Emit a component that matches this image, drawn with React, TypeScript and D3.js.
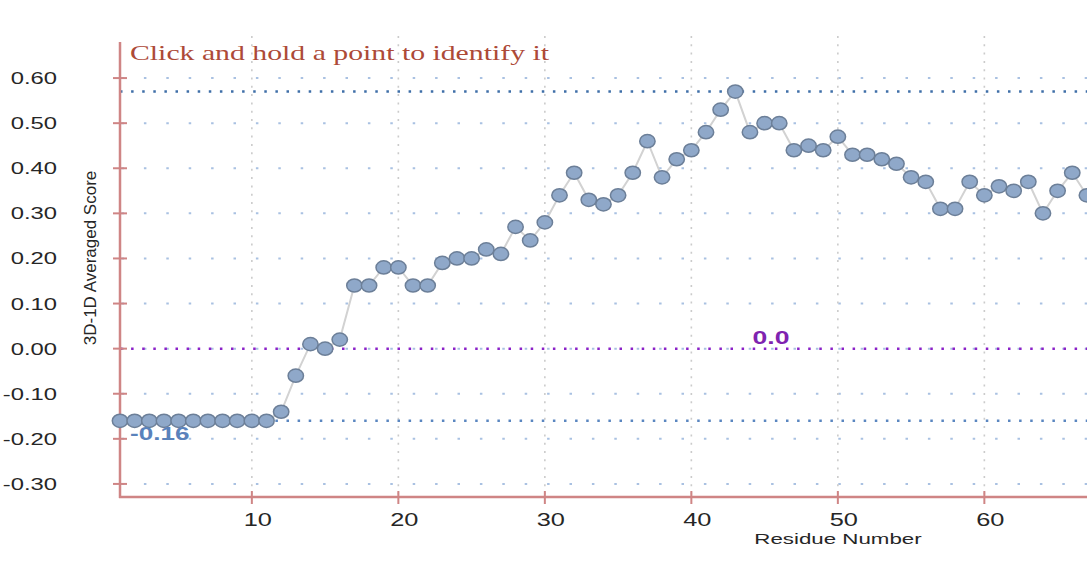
import * as d3 from 'd3';
import React from 'react';

// residue numbers 1..67 and their averaged 3D-1D scores
const residues = d3.range(1, 68);
const scores = [
  -0.16, -0.16, -0.16, -0.16, -0.16, -0.16, -0.16, -0.16, -0.16, -0.16, -0.16,
  -0.14, -0.06, 0.01, 0.0, 0.02, 0.14, 0.14, 0.18, 0.18, 0.14, 0.14, 0.19, 0.2,
  0.2, 0.22, 0.21, 0.27, 0.24, 0.28, 0.34, 0.39, 0.33, 0.32, 0.34, 0.39, 0.46,
  0.38, 0.42, 0.44, 0.48, 0.53, 0.57, 0.48, 0.5, 0.5, 0.44, 0.45, 0.44, 0.47,
  0.43, 0.43, 0.42, 0.41, 0.38, 0.37, 0.31, 0.31, 0.37, 0.34, 0.36, 0.35, 0.37,
  0.3, 0.35, 0.39, 0.34
];
const yTicks = [0.6, 0.5, 0.4, 0.3, 0.2, 0.1, 0.0, -0.1, -0.2, -0.3];
const xTicks = [10, 20, 30, 40, 50, 60];

const W = 1087;
const H = 562;
const axisColor = '#cf8585';

export default function App() {
  const x = d3.scaleLinear().domain([1, 70]).range([120, 120 + 69 * 14.65]);
  const y = d3.scaleLinear().domain([-0.329, 0.68]).range([497, 42]);

  const maxV = d3.max(scores) as number;
  const minV = d3.min(scores) as number;

  const line = d3
    .line<number>()
    .x((_d, i) => x(residues[i]))
    .y((d) => y(d));

  const top = y(0.68);
  const bottom = y(-0.329);

  return (
    <svg
      width={W}
      height={H}
      style={{ position: 'absolute', left: 0, top: 0, background: '#fff' }}
    >
      {/* horizontal light blue grid */}
      {yTicks.map((t) => (
        <line
          key={`hg${t}`}
          x1={121.5}
          x2={W}
          y1={y(t)}
          y2={y(t)}
          stroke="#a9c1e2"
          strokeWidth={2}
          strokeDasharray="2.5 19.9"
        />
      ))}
      {/* vertical gray dotted grid */}
      {xTicks.map((t) => (
        <line
          key={`vg${t}`}
          x1={x(t)}
          x2={x(t)}
          y1={36}
          y2={bottom}
          stroke="#cbcbcb"
          strokeWidth={1.6}
          strokeDasharray="2 6.3"
        />
      ))}

      {/* reference lines */}
      <line
        x1={120}
        x2={W}
        y1={y(maxV)}
        y2={y(maxV)}
        stroke="#3f6fa8"
        strokeWidth={2.5}
        strokeDasharray="2.5 8.6"
      />
      <line
        x1={120}
        x2={W}
        y1={y(minV)}
        y2={y(minV)}
        stroke="#5a86c0"
        strokeWidth={2.5}
        strokeDasharray="2.5 8.6"
      />
      <line
        x1={120}
        x2={W}
        y1={y(0)}
        y2={y(0)}
        stroke="#8b22c8"
        strokeWidth={2.5}
        strokeDasharray="2.5 8.6"
      />

      {/* axes */}
      <line x1={120} x2={120} y1={top} y2={bottom + 1} stroke={axisColor} strokeWidth={2.5} />
      <line x1={119} x2={W} y1={bottom} y2={bottom} stroke={axisColor} strokeWidth={2.5} />
      {yTicks.map((t) => (
        <line
          key={`yt${t}`}
          x1={113}
          x2={127}
          y1={y(t)}
          y2={y(t)}
          stroke={axisColor}
          strokeWidth={2}
        />
      ))}
      {xTicks.map((t) => (
        <line
          key={`xt${t}`}
          x1={x(t)}
          x2={x(t)}
          y1={bottom - 6}
          y2={bottom + 7}
          stroke={axisColor}
          strokeWidth={2}
        />
      ))}

      {/* tick labels */}
      <g fontFamily="'Liberation Sans', Arial, sans-serif" fill="#262626">
        {yTicks.map((t) => (
          <text
            key={`yl${t}`}
            transform={`translate(57,${y(t) + 6}) scale(1.4,1)`}
            fontSize={17}
            textAnchor="end"
          >
            {t.toFixed(2)}
          </text>
        ))}
        {xTicks.map((t) => (
          <text
            key={`xl${t}`}
            transform={`translate(${x(t) + 6},${526}) scale(1.45,1)`}
            fontSize={17.5}
            textAnchor="middle"
          >
            {t}
          </text>
        ))}
        <text
          transform={`translate(838,544) scale(1.44,1)`}
          fontSize={15.5}
          textAnchor="middle"
        >
          Residue Number
        </text>
        <text
          transform={`translate(96,258) rotate(-90)`}
          fontSize={17}
          textAnchor="middle"
        >
          3D-1D Averaged Score
        </text>
      </g>

      {/* title */}
      <text
        x={130}
        y={60}
        fontFamily="'Liberation Serif', 'Times New Roman', serif"
        fontSize={21}
        fill="#ad4a37"
        textLength={419}
        lengthAdjust="spacingAndGlyphs"
      >
        Click and hold a point to identify it
      </text>

      {/* series */}
      <path d={line(scores) ?? ''} fill="none" stroke="#d2d2d2" strokeWidth={2} />
      {scores.map((v, i) => (
        <ellipse
          key={`p${i}`}
          cx={x(residues[i])}
          cy={y(v)}
          rx={7.7}
          ry={6.6}
          fill="#8fa8c9"
          stroke="#6c7f98"
          strokeWidth={1.5}
        />
      ))}

      {/* reference labels */}
      <text
        transform={`translate(771,${y(0) - 5}) scale(1.4,1)`}
        fontFamily="'Liberation Sans', Arial, sans-serif"
        fontWeight="bold"
        fontSize={19}
        fill="#7f23b0"
        textAnchor="middle"
      >
        0.0
      </text>
      <text
        transform={`translate(130,${y(minV) + 19}) scale(1.45,1)`}
        fontFamily="'Liberation Sans', Arial, sans-serif"
        fontWeight="bold"
        fontSize={18}
        fill="#5a82bb"
      >
        {minV.toFixed(2)}
      </text>
    </svg>
  );
}
